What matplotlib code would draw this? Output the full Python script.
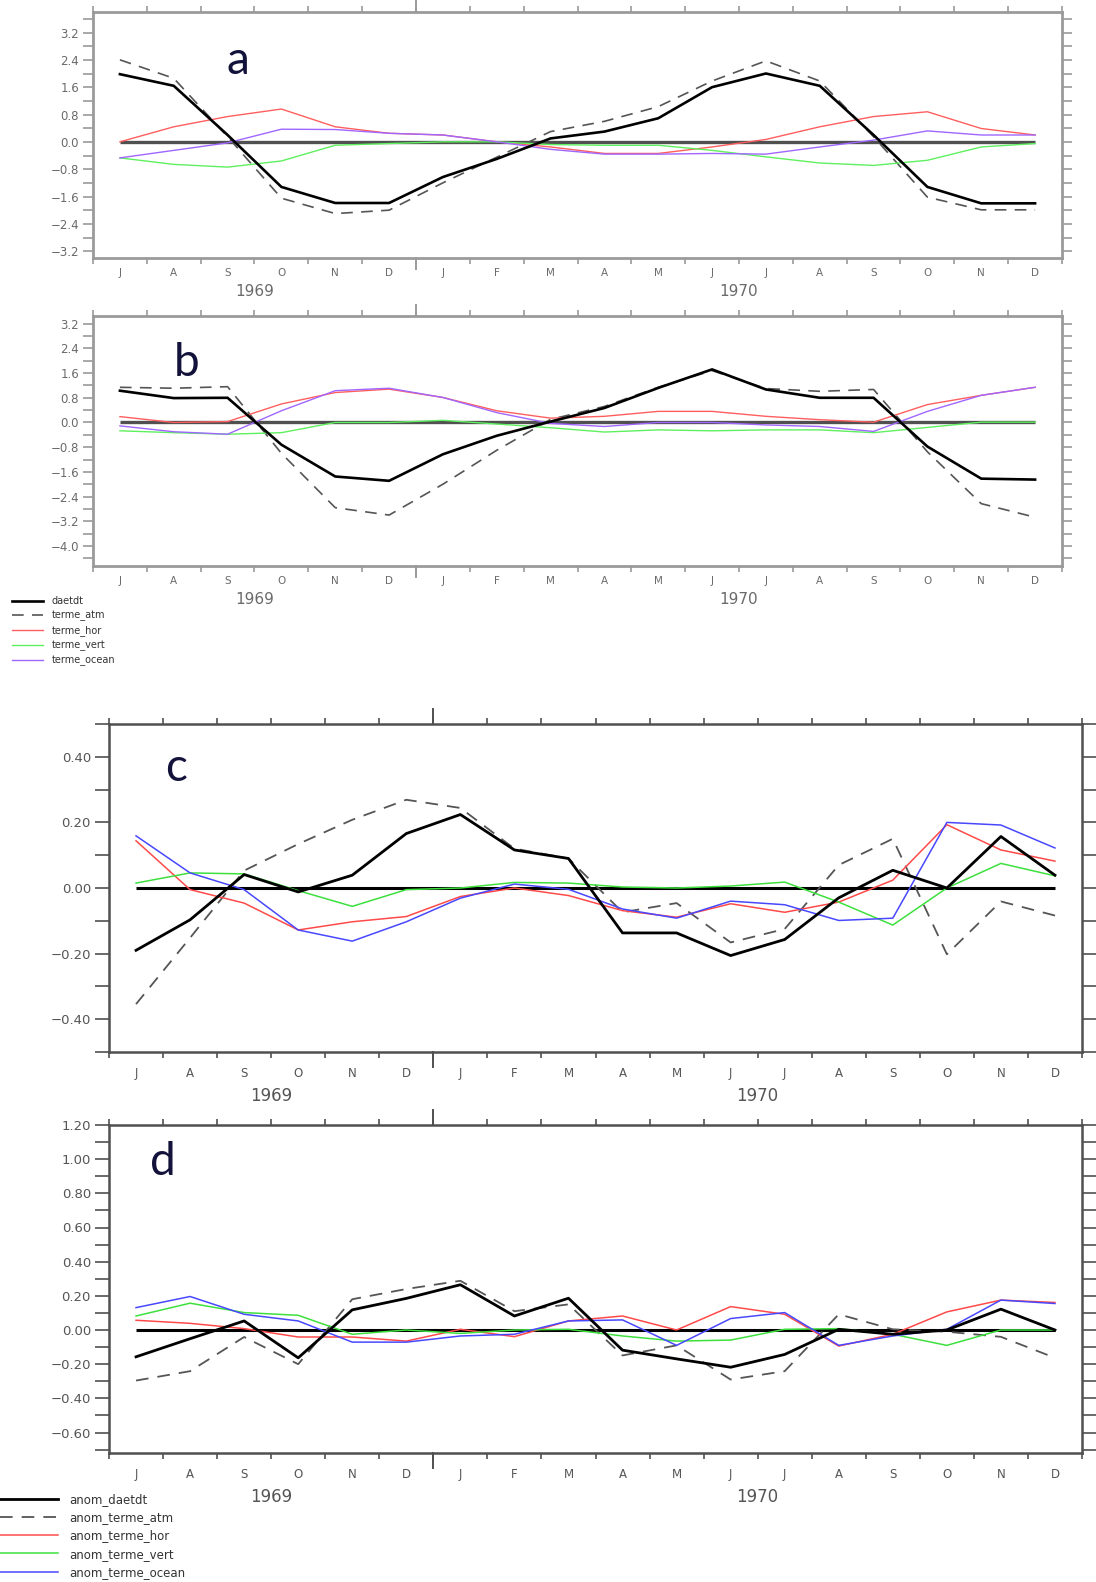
import numpy as np
import matplotlib
matplotlib.use("Agg")
import matplotlib.pyplot as plt
from matplotlib.ticker import MultipleLocator, FixedLocator

W, H = 1096, 1582

months = ['J', 'A', 'S', 'O', 'N', 'D', 'J', 'F', 'M', 'A', 'M', 'J',
          'J', 'A', 'S', 'O', 'N', 'D']
years = ['1969', '1970']

# panel a
a_daetdt = [1.98, 1.64, 0.2, -1.32, -1.79, -1.79, -1.03, -0.5, 0.1, 0.3, 0.69, 1.6,
            2.0, 1.64, 0.2, -1.32, -1.8, -1.8]
a_atm = [2.4, 1.86, 0.15, -1.65, -2.1, -2.0, -1.2, -0.45, 0.3, 0.6, 1.03, 1.78,
         2.37, 1.78, 0.15, -1.62, -1.99, -1.99]
a_hor = [0.0, 0.44, 0.74, 0.96, 0.44, 0.25, 0.2, 0.0, -0.15, -0.34, -0.34, -0.15,
         0.07, 0.44, 0.74, 0.88, 0.39, 0.2]
a_vert = [-0.47, -0.66, -0.74, -0.56, -0.1, -0.05, 0.0, 0.0, -0.08, -0.1, -0.1, -0.25,
          -0.44, -0.62, -0.69, -0.54, -0.15, -0.05]
a_ocean = [-0.47, -0.25, -0.03, 0.37, 0.36, 0.25, 0.2, 0.0, -0.22, -0.36, -0.36, -0.34,
           -0.36, -0.15, 0.05, 0.32, 0.2, 0.2]

# panel b
b_daetdt = [1.03, 0.79, 0.8, -0.72, -1.75, -1.89, -1.03, -0.43, 0.03, 0.47, 1.12, 1.72,
            1.07, 0.8, 0.8, -0.78, -1.82, -1.85]
b_atm = [1.14, 1.11, 1.16, -1.0, -2.76, -3.0, -2.0, -0.9, 0.1, 0.52, 1.14, 1.68,
         1.1, 1.01, 1.07, -0.95, -2.63, -3.07]
b_hor = [0.19, 0.0, 0.03, 0.6, 0.97, 1.08, 0.81, 0.38, 0.14, 0.2, 0.36, 0.36,
         0.2, 0.09, 0.01, 0.58, 0.88, 1.14]
b_vert = [-0.27, -0.33, -0.38, -0.33, 0.0, 0.0, 0.07, -0.05, -0.17, -0.31, -0.24, -0.27,
          -0.24, -0.24, -0.33, -0.16, 0.01, 0.01]
b_ocean = [-0.11, -0.3, -0.38, 0.38, 1.03, 1.11, 0.81, 0.32, -0.03, -0.13, 0.0, 0.0,
           -0.08, -0.13, -0.29, 0.36, 0.88, 1.14]

# panel c
c_daetdt = [-0.19, -0.097, 0.041, -0.012, 0.039, 0.166, 0.224, 0.116, 0.09, -0.137, -0.137, -0.206,
            -0.157, -0.03, 0.054, 0.0, 0.157, 0.039]
c_atm = [-0.354, -0.152, 0.053, 0.134, 0.208, 0.269, 0.244, 0.12, 0.09, -0.074, -0.046, -0.166,
         -0.125, 0.07, 0.15, -0.202, -0.041, -0.084]
c_hor = [0.144, -0.005, -0.046, -0.128, -0.103, -0.087, -0.026, 0.0, -0.023, -0.069, -0.089, -0.048,
         -0.074, -0.043, 0.024, 0.193, 0.116, 0.082]
c_vert = [0.015, 0.046, 0.043, -0.008, -0.056, -0.005, 0.0, 0.017, 0.015, 0.003, 0.0, 0.006,
          0.018, -0.043, -0.113, 0.0, 0.075, 0.037]
c_ocean = [0.159, 0.046, -0.005, -0.128, -0.162, -0.103, -0.031, 0.012, -0.004, -0.064, -0.092, -0.04,
           -0.051, -0.099, -0.092, 0.2, 0.192, 0.122]

# panel d
d_daetdt = [-0.157, -0.051, 0.053, -0.163, 0.118, 0.185, 0.265, 0.082, 0.186, -0.118, -0.169, -0.218,
            -0.143, 0.004, -0.025, 0.0, 0.122, 0.0]
d_atm = [-0.296, -0.241, -0.041, -0.2, 0.18, 0.24, 0.288, 0.11, 0.15, -0.149, -0.09, -0.29,
         -0.241, 0.092, 0.004, -0.01, -0.04, -0.163]
d_hor = [0.057, 0.039, 0.008, -0.041, -0.041, -0.065, 0.004, -0.039, 0.053, 0.082, 0.0, 0.137,
         0.092, -0.094, -0.025, 0.106, 0.175, 0.161]
d_vert = [0.082, 0.157, 0.102, 0.086, -0.025, 0.0, -0.02, 0.0, 0.004, -0.035, -0.065, -0.059,
          0.004, 0.008, -0.025, -0.09, 0.0, 0.0]
d_ocean = [0.131, 0.196, 0.092, 0.053, -0.071, -0.071, -0.035, -0.025, 0.053, 0.059, -0.09, 0.067,
           0.102, -0.09, -0.035, 0.004, 0.175, 0.155]

labels_top = ['daetdt', 'terme_atm', 'terme_hor', 'terme_vert', 'terme_ocean']
labels_bot = ['anom_' + s for s in labels_top]

plt.rcParams['font.family'] = ['DejaVu Sans']

fig = plt.figure(figsize=(W / 100, H / 100), dpi=100)


def rect(l, t, r, b):
    return [l / W, 1 - b / H, (r - l) / W, (b - t) / H]


def panel(box, series, ylim, major, minor, fmt, style, letter, letter_xy):
    ax = fig.add_axes(rect(*box))
    x = np.arange(len(months))
    ax.hlines(0, 0, len(months) - 1, color=style['zero'], lw=style['zlw'], zorder=1)
    handles = []
    for vals, (col, lw, ls) in zip(series, style['lines']):
        h, = ax.plot(x, vals, color=col, lw=lw, ls=ls, zorder=3 if col == 'black' else 2)
        handles.append(h)
    ax.set_xlim(-0.5, len(months) - 0.5)
    ax.set_ylim(*ylim)

    fc = style['frame']
    for sp in ax.spines.values():
        sp.set_color(fc)
        sp.set_linewidth(style['flw'])

    # y axis
    ax.yaxis.set_major_locator(MultipleLocator(major))
    ax.yaxis.set_minor_locator(MultipleLocator(minor))
    ax.yaxis.set_major_formatter(plt.FuncFormatter(lambda v, p: fmt.format(v).replace('-', '\u2212')))
    ax.tick_params(axis='y', which='both', direction='out', left=True, right=True,
                   length=style['ytl'], width=1.2, color=fc, labelsize=style['ylab'],
                   labelcolor=style['text'], pad=3)

    # x axis: ticks at month boundaries, labels at month centers
    bounds = [b + 0.5 for b in range(-1, len(months))]
    ax.xaxis.set_major_locator(FixedLocator(bounds))
    ax.xaxis.set_major_formatter(plt.NullFormatter())
    ax.xaxis.set_minor_locator(FixedLocator(x))
    ax.set_xticklabels(months, minor=True)
    ax.tick_params(axis='x', which='major', direction='out', top=True, bottom=True,
                   length=4, width=1.2, color=fc)
    ax.tick_params(axis='x', which='minor', length=0, labelsize=style['mlab'],
                   labelcolor=style['text'], pad=style['mpad'])
    tr = ax.get_xaxis_transform()
    for yy in ([0, -0.045], [1, 1.045]):
        ax.plot([5.5, 5.5], yy, transform=tr, color=fc, lw=1.4, clip_on=False)

    for xc, yr in zip([2.5, 11.5], years):
        ax.annotate(yr, xy=(xc, 0), xycoords=('data', 'axes fraction'),
                    xytext=(0, -style['ypad']), textcoords='offset points',
                    ha='center', va='top', fontsize=style['yrlab'], color=style['text'])

    fig.text(letter_xy[0] / W, 1 - letter_xy[1] / H, letter, fontsize=33,
             family='Lato', color='#12123a', ha='center', va='center')
    return handles


style_ab = dict(
    lines=[('black', 1.9, '-'), ('#555555', 1.2, (0, (7, 5))), ('#ff5e5e', 1.0, '-'),
           ('#5ef05e', 1.0, '-'), ('#a066ff', 1.0, '-')],
    zero='#505050', zlw=2.4, frame='#9a9a9a', flw=2.0, text='#6a6a6a',
    ytl=7, ylab=8.5, mlab=7.5, mpad=7.5, ypad=19, yrlab=11)

style_cd = dict(
    lines=[('black', 2.0, '-'), ('#555555', 1.3, (0, (7, 5))), ('#ff4a4a', 1.1, '-'),
           ('#3ee03e', 1.1, '-'), ('#4848ff', 1.1, '-')],
    zero='black', zlw=2.2, frame='#505050', flw=1.8, text='#555555',
    ytl=10, ylab=9.5, mlab=8.5, mpad=10.5, ypad=25.5, yrlab=12)

h_top = panel((93, 12, 1062, 258), [a_daetdt, a_atm, a_hor, a_vert, a_ocean],
              (-3.4, 3.8), 0.8, 0.4, '{:.1f}', style_ab, 'a', (238, 61))
panel((93, 316, 1062, 566), [b_daetdt, b_atm, b_hor, b_vert, b_ocean],
      (-4.65, 3.45), 0.8, 0.4, '{:.1f}', style_ab, 'b', (187, 363))
panel((109, 724, 1082, 1052), [c_daetdt, c_atm, c_hor, c_vert, c_ocean],
      (-0.5, 0.5), 0.2, 0.1, '{:.2f}', style_cd, 'c', (176, 768))
h_bot = panel((109, 1125, 1082, 1453), [d_daetdt, d_atm, d_hor, d_vert, d_ocean],
              (-0.72, 1.2), 0.2, 0.1, '{:.2f}', style_cd, 'd', (163, 1162))

fig.legend(h_top, labels_top, loc='upper left', bbox_to_anchor=(12 / W, 1 - 596 / H),
           frameon=False, fontsize=7, handlelength=3.2, handletextpad=0.9,
           labelspacing=0.42, borderpad=0, borderaxespad=0, labelcolor='#333333')
fig.legend(h_bot, labels_bot, loc='upper left', bbox_to_anchor=(0, 1 - 1493 / H),
           frameon=False, fontsize=8.5, handlelength=4.9, handletextpad=1.0,
           labelspacing=0.44, borderpad=0, borderaxespad=0, labelcolor='#333333')

fig.savefig('out.png', dpi=100)
